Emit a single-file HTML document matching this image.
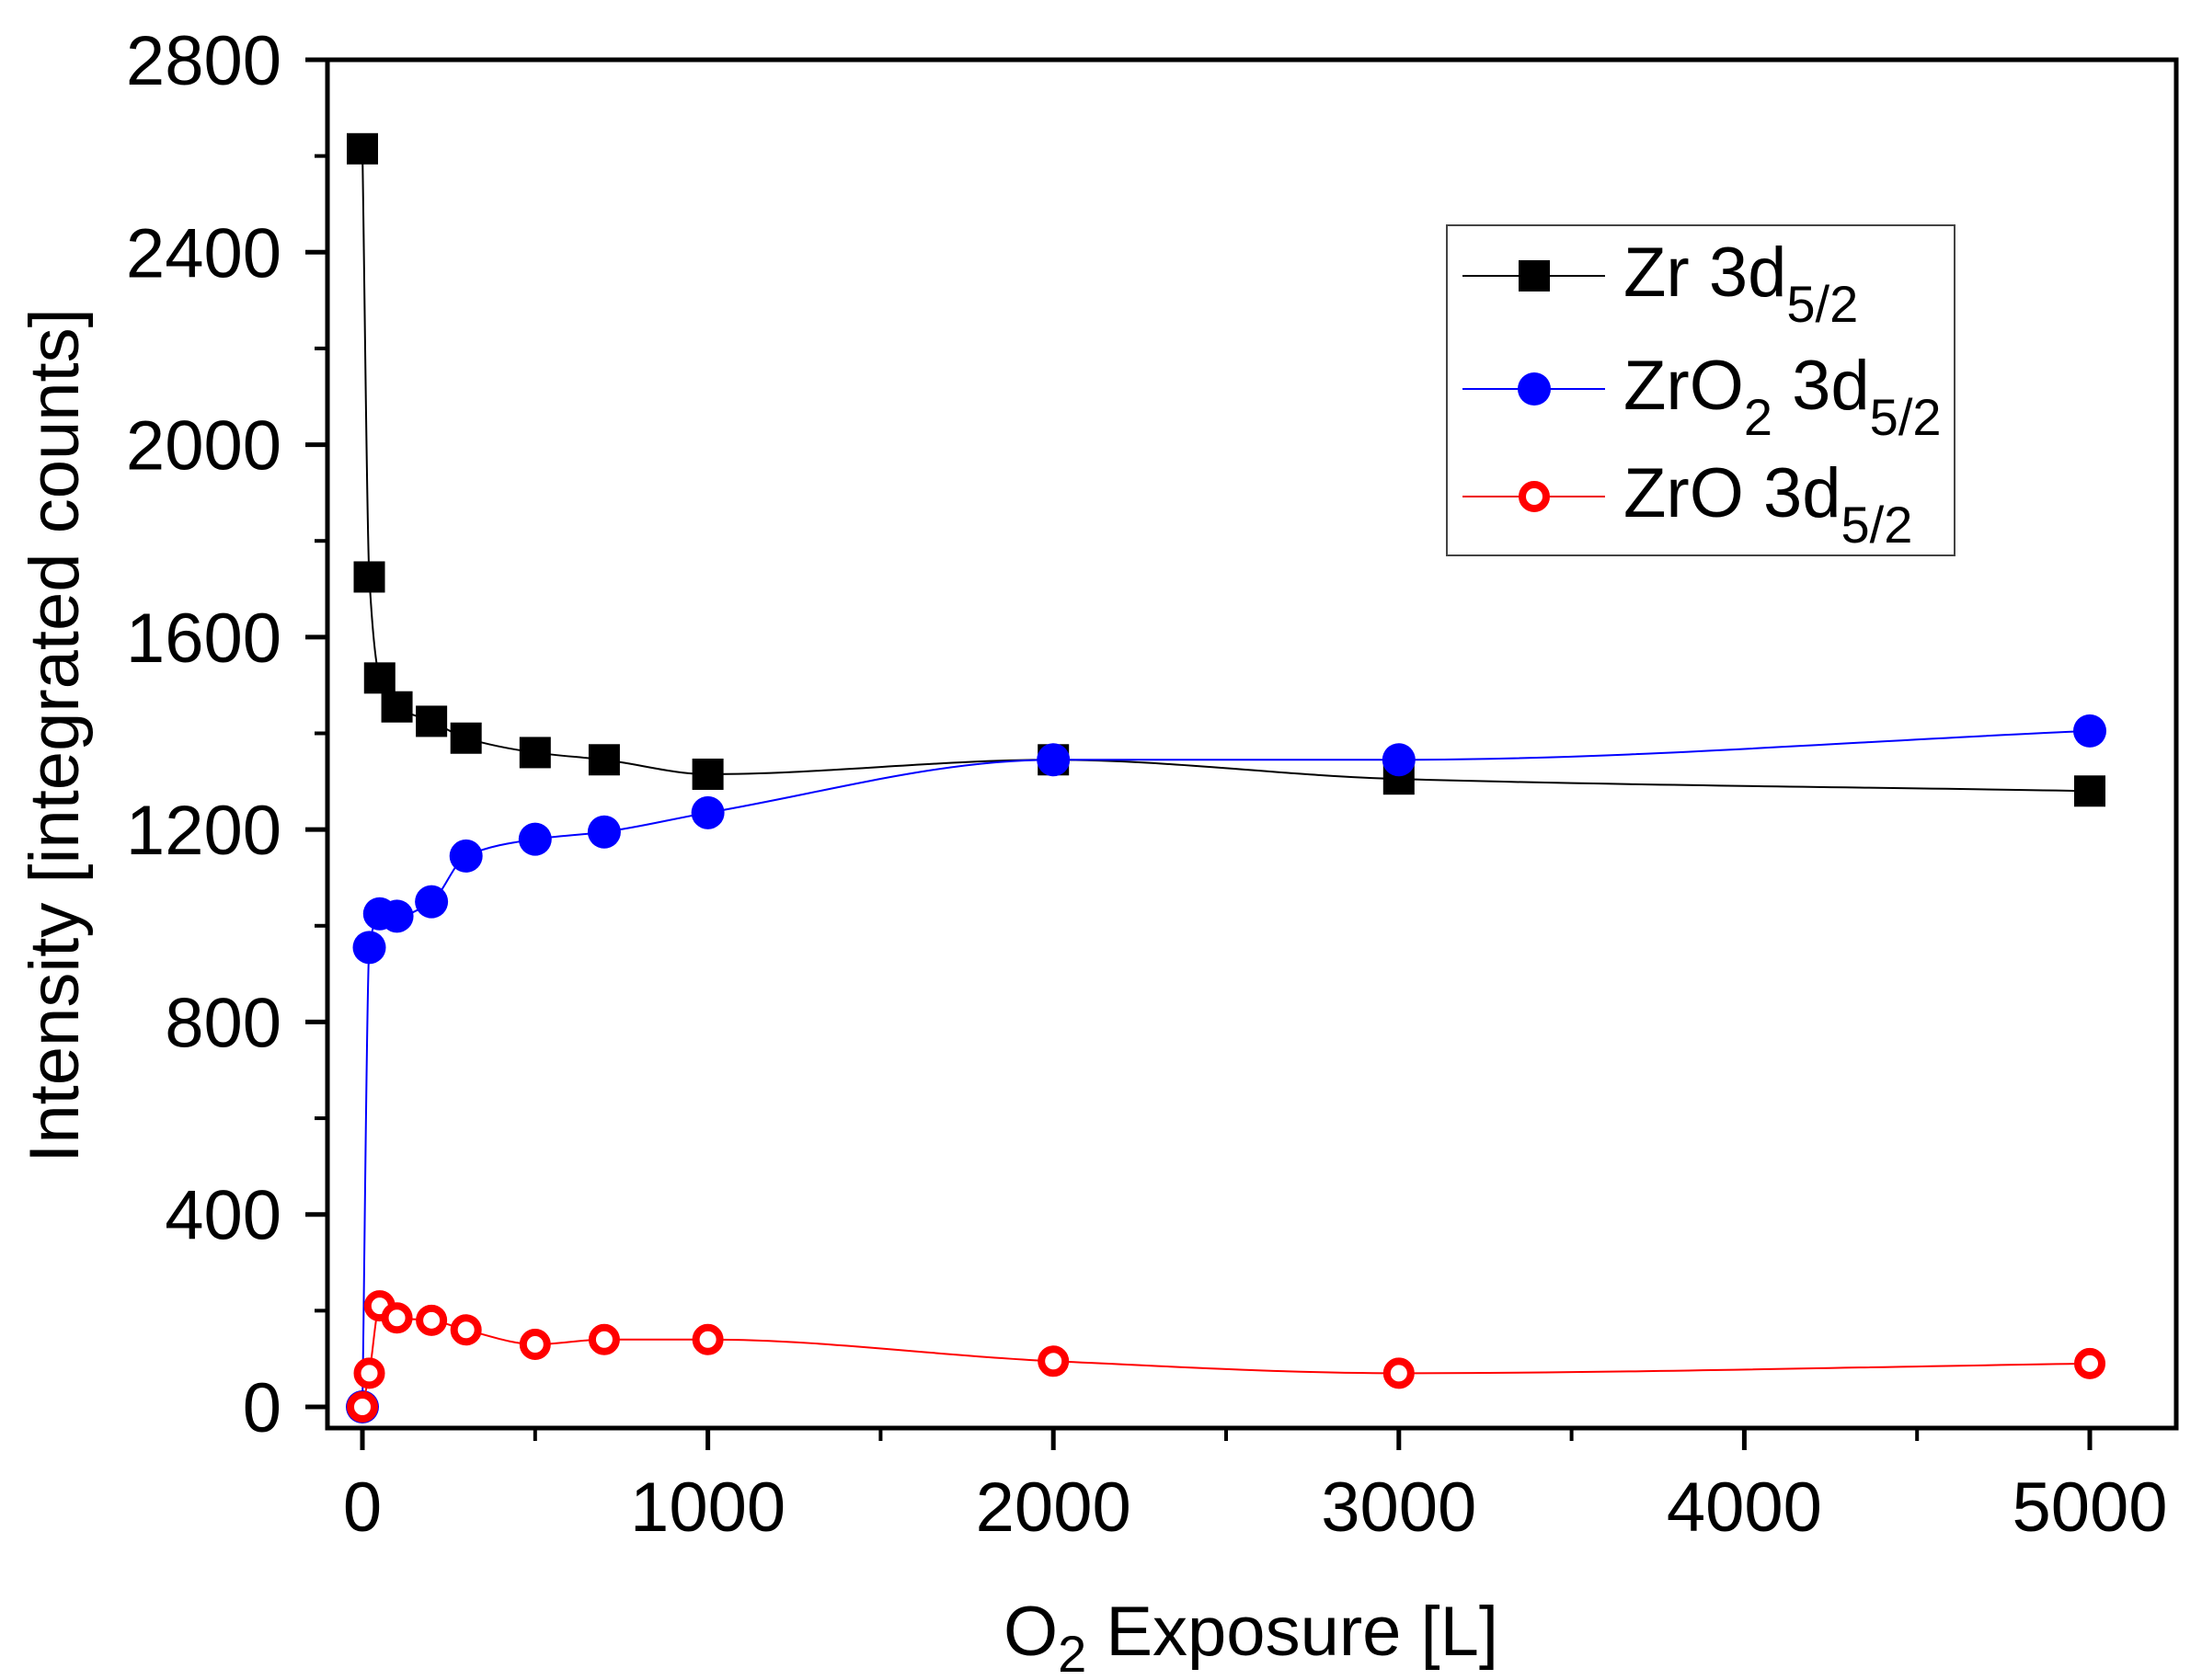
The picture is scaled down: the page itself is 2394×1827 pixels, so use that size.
<!DOCTYPE html>
<html><head><meta charset="utf-8"><style>
html,body{margin:0;padding:0;background:#fff;}
svg{display:block;font-family:"Liberation Sans",Arial,sans-serif;}
</style></head><body>
<svg id="chart" width="2394" height="1827" viewBox="0 0 2394 1827" xmlns="http://www.w3.org/2000/svg">
<rect x="0" y="0" width="2394" height="1827" fill="#fff"/>
<g id="plot"></g>
<g id="axes"></g>
<text transform="translate(85,800) rotate(-90)" text-anchor="middle" font-size="76">Intensity [integrated counts]</text>
<text x="1360" y="1800" text-anchor="middle" font-size="76">O<tspan font-size="56" dy="18">2</tspan><tspan dy="-18"> Exposure [L]</tspan></text>
<g>
<rect x="1573" y="245" width="552" height="359" fill="#fff" stroke="#444" stroke-width="2"/>
<line x1="1590" y1="300" x2="1745" y2="300" stroke="#000" stroke-width="2"/>
<rect x="1651" y="283" width="34" height="34" fill="#000"/>
<text x="1765" y="322" font-size="76">Zr 3d<tspan font-size="56" dy="28">5/2</tspan></text>
<line x1="1590" y1="423" x2="1745" y2="423" stroke="#00f" stroke-width="2"/>
<circle cx="1668" cy="423" r="18" fill="#00f"/>
<text x="1765" y="445" font-size="76">ZrO<tspan font-size="56" dy="28">2</tspan><tspan dy="-28"> 3d</tspan><tspan font-size="56" dy="28">5/2</tspan></text>
<line x1="1590" y1="540" x2="1745" y2="540" stroke="#e00" stroke-width="2"/>
<circle cx="1668" cy="540" r="13" fill="#fff" stroke="#f00" stroke-width="8"/>
<text x="1765" y="562" font-size="76">ZrO 3d<tspan font-size="56" dy="28">5/2</tspan></text>
</g>
</svg>
<script>
const xValues = [0, 20, 50, 100, 200, 300, 500, 700, 1000, 2000, 3000, 5000];
const zrValues = [2615, 1725, 1515, 1455, 1425, 1390, 1360, 1345, 1315, 1345, 1305, 1280];
const zro2Values = [0, 955, 1025, 1020, 1050, 1145, 1180, 1195, 1235, 1345, 1345, 1405];
const zroValues = [0, 70, 210, 185, 180, 160, 130, 140, 140, 95, 70, 90];
const yTicks = [0, 400, 800, 1200, 1600, 2000, 2400, 2800];
const xTicks = [0, 1000, 2000, 3000, 4000, 5000];

const NS = "http://www.w3.org/2000/svg";
const L = 356, R = 2366, T = 65, B = 1553;
const X = v => 394 + (v / 5000) * (2272 - 394);
const Y = v => 1530 - (v / 2800) * (1530 - 65);
function mk(tag, attrs, parent) {
  const e = document.createElementNS(NS, tag);
  for (const k in attrs) e.setAttribute(k, attrs[k]);
  parent.appendChild(e);
  return e;
}
const plot = document.getElementById('plot');
const axes = document.getElementById('axes');

function monotone(pts) {
  const n = pts.length, dx = [], s = [], m = [];
  for (let i = 0; i < n - 1; i++) { dx[i] = pts[i+1][0] - pts[i][0]; s[i] = (pts[i+1][1] - pts[i][1]) / dx[i]; }
  m[0] = s[0]; m[n-1] = s[n-2];
  for (let i = 1; i < n - 1; i++) {
    if (s[i-1] * s[i] <= 0) m[i] = 0;
    else { const w1 = 2*dx[i] + dx[i-1], w2 = dx[i] + 2*dx[i-1]; m[i] = (w1 + w2) / (w1 / s[i-1] + w2 / s[i]); }
  }
  let d = `M${pts[0][0]},${pts[0][1]}`;
  for (let i = 0; i < n - 1; i++) {
    const h = dx[i] / 3;
    d += ` C${pts[i][0] + h},${pts[i][1] + m[i]*h} ${pts[i+1][0] - h},${pts[i+1][1] - m[i+1]*h} ${pts[i+1][0]},${pts[i+1][1]}`;
  }
  return d;
}
function series(vals, color, name, marker) {
  const pts = xValues.map((x, i) => [X(x), Y(vals[i])]);
  const p = mk('path', {d: monotone(pts), fill: 'none', stroke: color, 'stroke-width': 2}, plot);
  
  
  pts.forEach(([px, py]) => {
    let m;
    if (marker === 'square') m = mk('rect', {x: px - 17, y: py - 17, width: 34, height: 34, fill: color}, plot);
    else if (marker === 'circle') m = mk('circle', {cx: px, cy: py, r: 18, fill: color}, plot);
    else m = mk('circle', {cx: px, cy: py, r: 13, fill: '#fff', stroke: color, 'stroke-width': 8}, plot);
    
    
  });
}
series(zrValues, '#000', 'zr-3d', 'square');
series(zro2Values, '#0000ff', 'zro2-3d', 'circle');
series(zroValues, '#ff0000', 'zro-3d', 'open');

const frame = mk('rect', {x: L, y: T, width: R - L, height: B - T, fill: 'none', stroke: '#000', 'stroke-width': 5}, axes);


yTicks.forEach(v => {
  const t = mk('line', {x1: L - 24, x2: L, y1: Y(v), y2: Y(v), stroke: '#000', 'stroke-width': 5}, axes);
  
  
  const lb = mk('text', {x: L - 50, y: Y(v) + 27, 'text-anchor': 'end', 'font-size': 76}, axes);
  lb.textContent = v;
  
  
});
for (let v = 200; v < 2800; v += 400) {
  const t = mk('line', {x1: L - 14, x2: L, y1: Y(v), y2: Y(v), stroke: '#000', 'stroke-width': 4}, axes);
  
  
}
xTicks.forEach(v => {
  const t = mk('line', {x1: X(v), x2: X(v), y1: B, y2: B + 24, stroke: '#000', 'stroke-width': 5}, axes);
  
  
  const lb = mk('text', {x: X(v), y: 1665, 'text-anchor': 'middle', 'font-size': 76}, axes);
  lb.textContent = v;
  
  
});
for (let v = 500; v < 5000; v += 1000) {
  const t = mk('line', {x1: X(v), x2: X(v), y1: B, y2: B + 14, stroke: '#000', 'stroke-width': 4}, axes);
  
  
}
</script>
</body></html>
